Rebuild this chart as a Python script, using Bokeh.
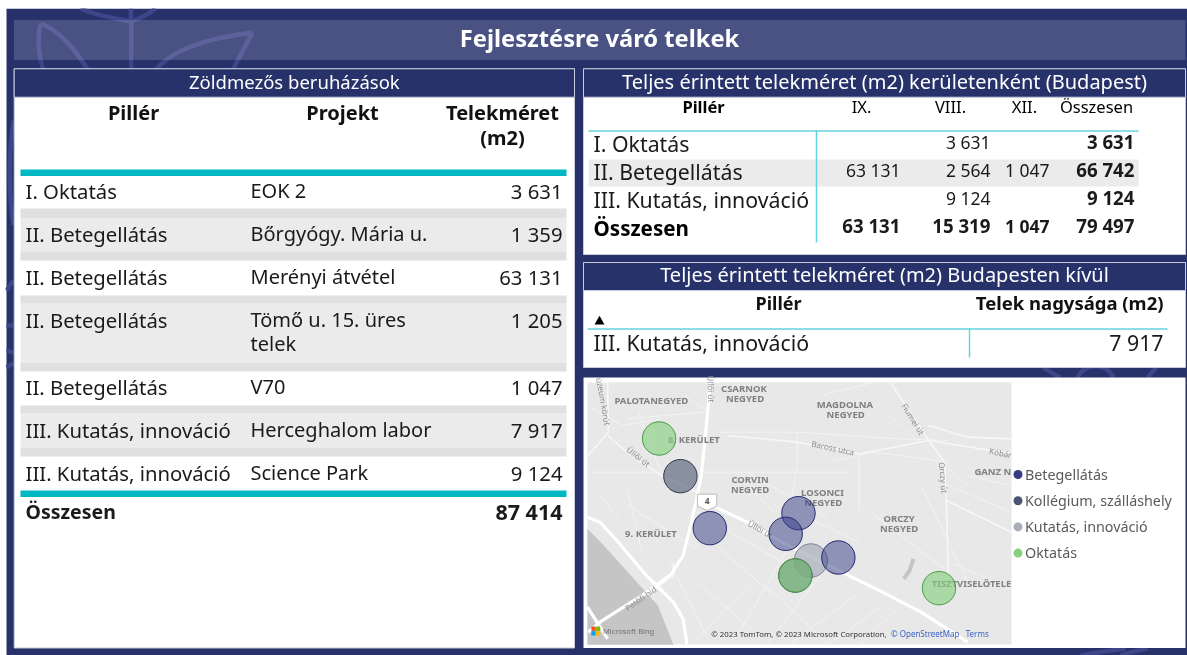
from bokeh.plotting import figure
from bokeh.models import Range1d
from bokeh.core.properties import value
from bokeh.embed import file_html
from bokeh.resources import INLINE

# ---- data ----
page_title = "Fejlesztésre váró telkek"
left_title = "Zöldmezős beruházások"
left_pillars = ["I. Oktatás", "II. Betegellátás", "II. Betegellátás", "II. Betegellátás",
                "II. Betegellátás", "III. Kutatás, innováció", "III. Kutatás, innováció"]
left_projects = ["EOK 2", "Bőrgyógy. Mária u.", "Merényi átvétel", "Tömő u. 15. üres\ntelek",
                 "V70", "Herceghalom labor", "Science Park"]
left_sizes = ["3 631", "1 359", "63 131", "1 205", "1 047", "7 917", "9 124"]
left_total = "87 414"

bud_title = "Teljes érintett telekméret (m2) kerületenként (Budapest)"
bud_headers = ["Pillér", "IX.", "VIII.", "XII.", "Összesen"]
bud_rows = ["I. Oktatás", "II. Betegellátás", "III. Kutatás, innováció", "Összesen"]
bud_ix = ["", "63 131", "", "63 131"]
bud_viii = ["3 631", "2 564", "9 124", "15 319"]
bud_xii = ["", "1 047", "", "1 047"]
bud_sum = ["3 631", "66 742", "9 124", "79 497"]

out_title = "Teljes érintett telekméret (m2) Budapesten kívül"
out_row = "III. Kutatás, innováció"
out_value = "7 917"

legend_names = ["Betegellátás", "Kollégium, szálláshely", "Kutatás, innováció", "Oktatás"]
legend_colors = ["#343c86", "#4a5570", "#a9aebb", "#86d07e"]

# map points, in map picture units
kut_x, kut_y = [595], [555]
kol_x, kol_y = [258, 555], [302, 600]
bet_x, bet_y = [334, 563, 530, 666], [458, 413, 475, 546]
okt_x, okt_y = [203, 555, 926], [189, 600, 638]

roads_main_x = [[335, 325, 312, 300, 280, 265, 235, 185, 50, 20],
                [340, 430, 520, 640, 780, 880, 1000],
                [18, 50, 90, 170, 240, 265, 275],
                [18, 70]]
roads_main_y = [[20, 150, 300, 370, 470, 540, 595, 640, 740, 770],
                [390, 440, 500, 570, 650, 710, 800],
                [425, 440, 490, 600, 680, 730, 808],
                [695, 790]]
roads_mid_x = [[70, 130, 210, 300], [380, 560, 720, 900, 1113], [900, 940, 945, 950],
               [945, 1113], [800, 900], [70, 72, 20], [900, 1000, 1113], [170, 240, 240]]
roads_mid_y = [[180, 240, 300, 350], [180, 200, 235, 195, 235], [195, 260, 370, 600],
               [375, 470], [20, 195], [20, 170, 240], [150, 185, 190], [660, 600, 560]]
roads_thin_x = [[18, 300], [320, 700], [360, 560], [560, 560, 545], [720, 720], [120, 320],
                [150, 210], [30, 110, 210], [110, 300], [300, 520], [430, 640], [460, 300],
                [540, 400], [640, 480], [720, 540], [780, 640], [820, 720], [560, 820, 950],
                [640, 760, 950], [950, 1113], [950, 1113], [790, 1000], [1000, 1113], [880, 1000],
                [480, 640], [340, 500], [300, 470], [760, 940], [520, 720], [400, 500],
                [120, 160], [230, 330], [50, 100], [620, 760], [270, 340]]
roads_thin_y = [[290, 290], [290, 290], [170, 170], [170, 270, 370], [235, 400], [130, 110],
                [110, 300], [100, 150, 130], [380, 520], [410, 560], [290, 430], [600, 790],
                [510, 790], [570, 808], [650, 808], [690, 808], [700, 808], [170, 190, 195],
                [260, 230, 260], [330, 410], [560, 640], [110, 330], [300, 330], [330, 620],
                [630, 808], [500, 660], [620, 790], [420, 580], [390, 500], [290, 410],
                [330, 540], [560, 790], [360, 430], [60, 20], [60, 120]]

area_labels = ["PALOTANEGYED", "CSARNOK", "NEGYED", "MAGDOLNA", "NEGYED", "8. KERÜLET", "CORVIN", "NEGYED",
               "LOSONCI", "NEGYED", "ORCZY", "NEGYED", "9. KERÜLET", "GANZ N", "TISZTVISELŐTELE"]
area_x = [183, 422, 425, 683, 685, 293, 438, 438, 625, 627, 823, 823, 182, 1065, 1010]
area_y = [78, 40, 70, 90, 120, 195, 313, 343, 352, 382, 431, 461, 475, 290, 626]
street_labels = ["üzeum körút", "Üllői út", "Üllői út", "Üllői út", "Baross utca", "Fiumei út", "Orczy út", "Kóbár", "Petőfi híd"]
street_x = [60, 338, 150, 465, 652, 860, 938, 1085, 155]
street_y = [80, 42, 245, 462, 218, 132, 308, 233, 670]
street_angle = [-80, -88, -38, -30, -12, -58, -85, -12, 35]


# ---- page layout ----
X0, Y0, W, H = 5, 8, 1182, 647
NAVY, WHITE = "#27316a", "#ffffff"
p = figure(width=W, height=H, x_range=Range1d(X0, X0 + W), y_range=Range1d(Y0 + H, Y0),
           output_backend="svg", toolbar_location=None, min_border=0, outline_line_color=None,
           background_fill_color=WHITE, border_fill_color=WHITE,
           styles={"position": "fixed", "left": f"{X0}px", "top": f"{Y0}px"})
p.axis.visible = False
p.grid.visible = False


def rect(l, t, r, b, color, alpha=1.0, line=None):
    p.quad(left=[l], right=[r], top=[t], bottom=[b], fill_color=color, fill_alpha=alpha, line_color=line)


def hline(x0, x1, y, color, w=1):
    p.line([x0, x1], [y, y], line_color=color, line_width=w)


def txt(x, y, s, size=20, color="#1a1a1a", align="left", bold=False, angle=0, font="Noto Sans"):
    shift = 1.6 if size >= 16 else 0.08 * size
    p.text([x], [y - shift], text=[s], text_font=value(font), text_font_size=f"{size}px", text_color=color,
           text_align=align, text_baseline="middle", text_font_style="bold" if bold else "normal",
           angle=[angle], angle_units="deg")


rect(X0 + 1, Y0, X0 + W, Y0 + H, NAVY)

# leaf decoration behind the title band and panels
LEAF = "#3e4589"
for xs in [(40, 36, 38, 43, 23, 40, 55, 70), (40, 60, 75, 88, 23, 30, 50, 70),
           (252, 205, 170, 155, 32, 38, 50, 70), (252, 245, 238, 232, 32, 45, 58, 70),
           (130, 132, 130, 131, 8, 25, 45, 70), (80, 95, 115, 130, 8, 15, 18, 21),
           (130, 140, 148, 155, 21, 18, 14, 8),
           (1043, 1048, 1053, 1060, 367, 370, 374, 377), (1077, 1085, 1105, 1113, 377, 362, 362, 377),
           (1147, 1150, 1153, 1156, 377, 373, 370, 367),
           (1080, 1095, 1110, 1125, 655, 652, 650, 648), (1120, 1128, 1138, 1147, 655, 652, 650, 648),
           (13, 8, 8, 13, 120, 150, 195, 225), (6, 8, 10, 13, 290, 287, 284, 280),
           (6, 8, 10, 13, 325, 325, 325, 325), (6, 8, 10, 13, 350, 350, 352, 352),
           (6, 8, 10, 13, 367, 366, 364, 363)]:
    p.bezier(x0=[xs[0]], x1=[xs[3]], cx0=[xs[1]], cx1=[xs[2]], y0=[xs[4]], y1=[xs[7]],
             cy0=[xs[5]], cy1=[xs[6]], line_color=LEAF, line_width=4.5)

# title band
rect(13.5, 19.5, 1185, 59.5, "#ffffff", alpha=0.16)
txt(599, 39.5, page_title, size=23.7, color="#ffffff", align="center", bold=True)

# panels
EDGE = "#c7cada"
for (l, t, r, b, hb, ttl, fs) in [(13.7, 68.3, 574, 647.5, 96.7, left_title, 18.5),
                                  (583, 68.3, 1185, 254, 96.7, bud_title, 20),
                                  (583, 262, 1185, 367, 290, out_title, 20)]:
    rect(l, t, r, b, WHITE, line=EDGE)
    rect(l, t, r, hb, NAVY, line=EDGE)
    txt((l + r) / 2, (t + hb) / 2, ttl, size=fs, color="#ffffff", align="center")
rect(583, 377, 1185, 647.5, WHITE)

# left table
TEAL, GREY, GREY2 = "#00b8c4", "#ebebeb", "#e0e0e0"
txt(133, 114, "Pillér", size=20, color="#111111", align="center", bold=True)
txt(342, 114, "Projekt", size=20, color="#111111", align="center", bold=True)
txt(502, 114, "Telekméret", size=20, color="#111111", align="center", bold=True)
txt(502, 139, "(m2)", size=20, color="#111111", align="center", bold=True)
rect(20, 169, 566, 175.5, TEAL)
for (t, gb, b) in [(208, 218, 251), (295, 303, 362), (405, 413, 447)]:
    rect(20, gb, 566, b, GREY)
    rect(20, t, 566, gb, GREY2)
for (t, b) in [(251, 260), (362, 371), (447, 456)]:
    rect(20, t, 566, b, GREY2)
row_y = [192, 235, 278, 321, 388, 431, 474]
for y, a, pr, s in zip(row_y, left_pillars, left_projects, left_sizes):
    txt(25, y, a, size=20.3)
    for i, part in enumerate(pr.split("\n")):
        txt(250, y + 24 * i, part, size=20)
    txt(562, y, s, size=20.3, align="right")
rect(20, 490, 566, 496.5, TEAL)
txt(25, 513, "Összesen", size=19.5, bold=True)
txt(562, 513, left_total, size=21.5, align="right", bold=True)

# Budapest table
CY = "#62d4dc"
for x, h, b in zip([703, 861, 950, 1024, 1096], bud_headers, [True, False, False, False, False]):
    txt(x, 108, h, size=16.5, color="#000000", align="center", bold=b)
rect(588, 159, 1138, 186, GREY)
hline(588, 1138, 130.5, CY, 1.5)
p.line([816, 816], [130, 242], line_color=CY, line_width=1.5)
for i, (y, r) in enumerate(zip([145, 173, 201, 229], bud_rows)):
    last = i == 3
    txt(593, y, r, size=20.6 if last else 21.3, bold=last, color="#000000" if last else "#1a1a1a")
    ny = y - 2
    fs = 18.7 if last else 17.5
    txt(900, ny, bud_ix[i], size=fs, align="right", bold=last)
    txt(990, ny, bud_viii[i], size=fs, align="right", bold=last)
    txt(1049, ny, bud_xii[i], size=17.5, align="right", bold=last)
    txt(1134, ny, bud_sum[i], size=18.7, align="right", bold=True)

# outside Budapest table
txt(778, 304, "Pillér", size=18, color="#111111", align="center", bold=True)
txt(1163, 304, "Telek nagysága (m2)", size=18.5, color="#111111", align="right", bold=True)
p.scatter([599], [321], marker="triangle", size=10, fill_color="#000000", line_color=None)
hline(587, 1167, 328.5, CY, 1.5)
p.line([969, 969], [328, 357], line_color=CY, line_width=1.5)
txt(593, 344, out_row, size=21.3)
txt(1163, 344, out_value, size=21.3, align="right")


# map
def mx(v):
    return 580 + v / 2.583


def my(v):
    return 375 + v / 3.0


def mxs(vs):
    return [[mx(v) for v in a] for a in vs]


def mys(vs):
    return [[my(v) for v in a] for a in vs]


rect(587, 382, 1011, 644, "#e8e8e8")
p.patch([mx(v) for v in [18, 60, 130, 200, 240, 18]], [my(v) for v in [460, 510, 600, 690, 808, 808]],
        fill_color="#c5c5c5", line_color=None)
p.multi_line(mxs(roads_thin_x), mys(roads_thin_y), line_color="#f3f3f3", line_width=1)
p.multi_line(mxs(roads_mid_x), mys(roads_mid_y), line_color="#f7f7f7", line_width=1.6)
p.multi_line(mxs(roads_main_x), mys(roads_main_y), line_color="#ffffff", line_width=3.2)
p.multi_line([[mx(860), mx(850), mx(835)]], [[my(550), my(585), my(610)]], line_color="#c5c5c5", line_width=4)
for s, x, y in zip(area_labels, area_x, area_y):
    txt(mx(x), my(y), s, size=9.5, color="#808080", align="center", bold=True)
for s, x, y, a in zip(street_labels, street_x, street_y, street_angle):
    txt(mx(x), my(y), s, size=8, color="#8c8c8c", align="center", angle=a)
p.patch([mx(v) for v in [302, 352, 352, 327, 302]], [my(v) for v in [356, 356, 392, 405, 392]],
        fill_color="#ffffff", line_color="#bdbdbd")
txt(mx(327), my(379), "4", size=8.5, color="#555555", align="center", bold=True)

for c, (x, y) in zip(["#f25022", "#7fba00", "#00a4ef", "#ffb900"], [(28, 753), (40, 753), (28, 767), (40, 767)]):
    rect(mx(x), my(y), mx(x + 11), my(y + 13), c)
txt(mx(58), my(767), "Microsoft Bing", size=7.5, color="#6f6f6f")
txt(mx(338), my(776), "© 2023 TomTom, © 2023 Microsoft Corporation,", size=7.8, color="#333333")
txt(mx(802), my(776), "© OpenStreetMap", size=8, color="#3b62c4")
txt(mx(995), my(776), "Terms", size=8, color="#3b62c4")

# map bubbles
R = 16.7
p.circle(mxs([kut_x])[0], mys([kut_y])[0], radius=R, fill_color=legend_colors[2], fill_alpha=0.72,
         line_color="#7e8494", line_width=1)
p.circle(mxs([kol_x])[0], mys([kol_y])[0], radius=R, fill_color=legend_colors[1], fill_alpha=0.6,
         line_color="#2f374c", line_width=1)
p.circle(mxs([bet_x])[0], mys([bet_y])[0], radius=R, fill_color=legend_colors[0], fill_alpha=0.5,
         line_color="#232a70", line_width=1)
p.circle(mxs([okt_x])[0], mys([okt_y])[0], radius=R, fill_color=legend_colors[3], fill_alpha=0.62,
         line_color="#4c9a4a", line_width=1)

# legend
for i, (n, c) in enumerate(zip(legend_names, legend_colors)):
    y = 474 + i * 26.2
    p.circle([1017.5], [y], radius=4.5, fill_color=c, line_color=None)
    txt(1024.5, y + 1, n, size=14.3, color="#5a5a5a")

open("out.html", "w").write(file_html(p, INLINE))
